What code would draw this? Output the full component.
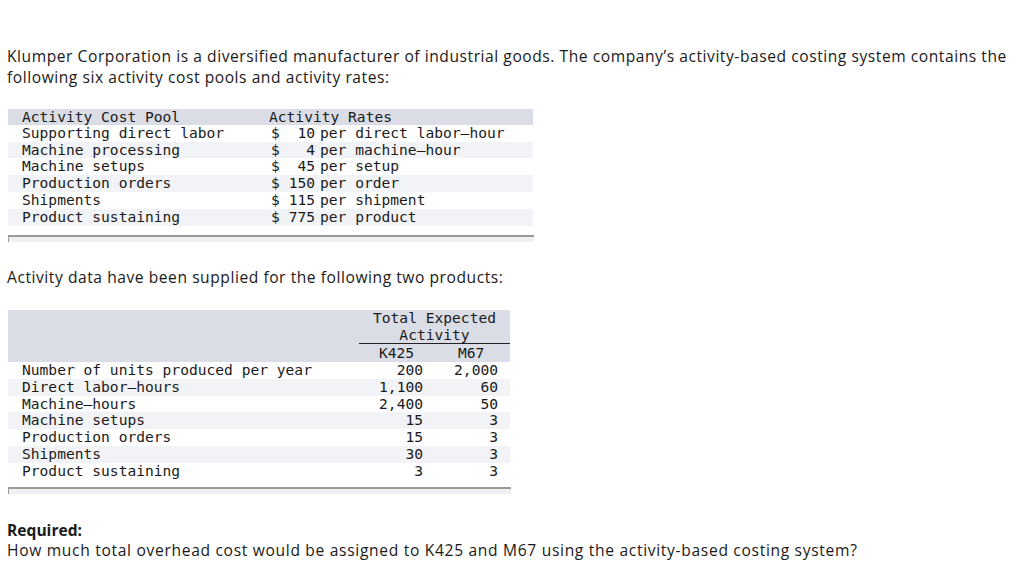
import React from 'react';

const intro1 = 'Klumper Corporation is a diversified manufacturer of industrial goods. The company\u2019s activity-based costing system contains the';
const intro2 = 'following six activity cost pools and activity rates:';
const intro3 = 'Activity data have been supplied for the following two products:';
const requiredLabel = 'Required:';
const question = 'How much total overhead cost would be assigned to K425 and M67 using the activity-based costing system?';

const costPools = ['Supporting direct labor', 'Machine processing', 'Machine setups', 'Production orders', 'Shipments', 'Product sustaining'];
const rates = [10, 4, 45, 150, 115, 775];
const rateUnits = ['direct labor\u2013hour', 'machine\u2013hour', 'setup', 'order', 'shipment', 'product'];

const activityItems = ['Number of units produced per year', 'Direct labor\u2013hours', 'Machine\u2013hours', 'Machine setups', 'Production orders', 'Shipments', 'Product sustaining'];
const k425 = [200, 1100, 2400, 15, 15, 30, 3];
const m67 = [2000, 60, 50, 3, 3, 3, 3];

const MONO = '"DejaVu Sans Mono", monospace';
const SANS = '"Open Sans", Lato, sans-serif';
const HEAD = '#dadde6';
const STRIPE = '#f2f3f6';
const ROW = 16.8;
const FS = 14.6;

const fmt = (n: number) => n.toLocaleString('en-US');

function BottomBar({ left, top, width }: { left: number; top: number; width: number }) {
  return (
    <div style={{ position: 'absolute', left, top, width, height: 5, background: '#eef0f4', borderTop: '2px solid #9a9a9a', borderLeft: '1px solid #9a9a9a' }} />
  );
}

export default function App() {
  return (
    <div style={{ position: 'absolute', left: 0, top: 0, width: 1024, height: 584, background: '#fff', overflow: 'hidden', color: '#1a1a1a' }}>
      <div style={{ position: 'absolute', left: 7, top: 46, fontFamily: SANS, fontSize: 15.6, letterSpacing: 0.55, lineHeight: '21px', whiteSpace: 'nowrap' }}>
        <div>{intro1}</div>
        <div>{intro2}</div>
      </div>

      {/* activity rates table */}
      <div style={{ position: 'absolute', left: 8, top: 109, width: 525, fontFamily: MONO, fontSize: FS, whiteSpace: 'nowrap' }}>
        <div style={{ position: 'relative', height: ROW - 1, background: HEAD, lineHeight: `${ROW - 1}px` }}>
          <span style={{ position: 'absolute', left: 14 }}>Activity Cost Pool</span>
          <span style={{ position: 'absolute', left: 261 }}>Activity Rates</span>
        </div>
        {costPools.map((p, i) => (
          <div key={p} style={{ position: 'relative', height: ROW, lineHeight: `${ROW}px`, background: i % 2 === 1 ? STRIPE : '#fff' }}>
            <span style={{ position: 'absolute', left: 14 }}>{p}</span>
            <span style={{ position: 'absolute', left: 263 }}>$</span>
            <span style={{ position: 'absolute', right: 525 - 307, textAlign: 'right' }}>{rates[i]}</span>
            <span style={{ position: 'absolute', left: 312 }}>per {rateUnits[i]}</span>
          </div>
        ))}
      </div>
      <BottomBar left={8} top={235} width={525} />

      <div style={{ position: 'absolute', left: 7, top: 267, fontFamily: SANS, fontSize: 15.6, letterSpacing: 0.55, lineHeight: '21px', whiteSpace: 'nowrap' }}>{intro3}</div>

      {/* activity data table */}
      <div style={{ position: 'absolute', left: 8, top: 310, width: 502, fontFamily: MONO, fontSize: FS, whiteSpace: 'nowrap' }}>
        <div style={{ position: 'relative', height: 52, background: HEAD }}>
          <div style={{ position: 'absolute', left: 351, width: 151, top: 0, textAlign: 'center', lineHeight: '16.5px' }}>
            <div>Total Expected</div>
            <div>Activity</div>
          </div>
          <div style={{ position: 'absolute', left: 351, width: 151, top: 33, borderTop: '1px solid #222' }} />
          <span style={{ position: 'absolute', left: 371, top: 35, lineHeight: '16px' }}>K425</span>
          <span style={{ position: 'absolute', left: 450, top: 35, lineHeight: '16px' }}>M67</span>
        </div>
        {activityItems.map((a, i) => (
          <div key={a} style={{ position: 'relative', height: ROW, lineHeight: `${ROW}px`, background: i % 2 === 1 ? STRIPE : '#fff' }}>
            <span style={{ position: 'absolute', left: 14 }}>{a}</span>
            <span style={{ position: 'absolute', right: 502 - 415 }}>{fmt(k425[i])}</span>
            <span style={{ position: 'absolute', right: 502 - 490 }}>{fmt(m67[i])}</span>
          </div>
        ))}
      </div>
      <BottomBar left={8} top={487} width={502} />

      <div style={{ position: 'absolute', left: 7, top: 520, fontFamily: SANS, fontSize: 15.6, lineHeight: '20px', whiteSpace: 'nowrap' }}>
        <div style={{ fontWeight: 700 }}>{requiredLabel}</div>
        <div style={{ letterSpacing: 0.68 }}>{question}</div>
      </div>
    </div>
  );
}
